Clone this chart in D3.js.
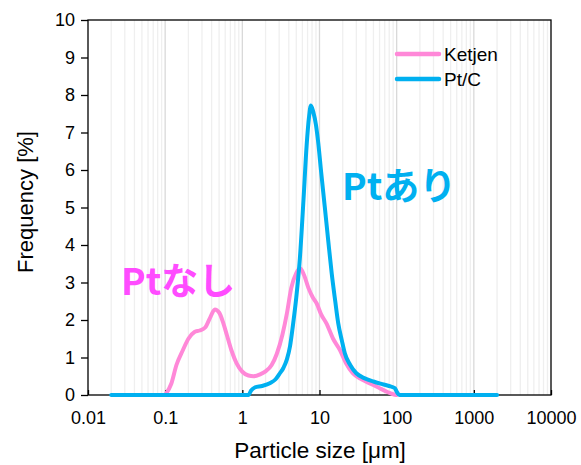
<!DOCTYPE html>
<html>
<head>
<meta charset="utf-8">
<script src="https://cdn.jsdelivr.net/npm/d3@7"></script>
<style>
  html, body { margin: 0; padding: 0; background: #fff; }
  svg { display: block; }
</style>
</head>
<body>
<svg id="chart" width="581" height="465"></svg>
<script>
// ---- data ----
const xTickValues = [0.01, 0.1, 1, 10, 100, 1000, 10000];
const xTickLabels = ["0.01", "0.1", "1", "10", "100", "1000", "10000"];
const yTickValues = [0, 1, 2, 3, 4, 5, 6, 7, 8, 9, 10];

const ketjenSize = [0.1, 0.12, 0.14, 0.17, 0.2, 0.24, 0.28, 0.33, 0.38, 0.44, 0.5, 0.56, 0.63, 0.72, 0.84, 1.0, 1.2, 1.4, 1.7, 2.0, 2.4, 2.8, 3.3, 3.8, 4.3, 5.0, 5.6, 6.3, 7.2, 8.2, 9.2, 10.5, 12.3, 15, 18.4, 22, 27, 35, 45, 58, 74, 90, 100];
const ketjenFreq = [0, 0.3, 0.8, 1.2, 1.5, 1.68, 1.72, 1.8, 2.05, 2.28, 2.2, 1.95, 1.6, 1.2, 0.85, 0.62, 0.52, 0.5, 0.55, 0.63, 0.8, 1.1, 1.6, 2.2, 2.85, 3.25, 3.38, 3.2, 2.85, 2.6, 2.44, 2.15, 1.91, 1.5, 1.2, 0.85, 0.58, 0.42, 0.31, 0.2, 0.09, 0.02, 0];

const ptcSize = [0.02, 1.2, 1.3, 1.45, 1.8, 2.3, 2.7, 3.07, 3.4, 3.78, 4.15, 4.52, 5.0, 5.57, 6.2, 6.81, 7.3, 7.74, 8.3, 9.0, 9.6, 10.5, 11.7, 13, 14.4, 16, 17.5, 19.5, 21.3, 25, 30, 38, 50, 65, 86, 95, 100, 110, 2000];
const ptcFreq = [0, 0, 0.12, 0.2, 0.24, 0.32, 0.42, 0.58, 0.72, 0.95, 1.3, 1.85, 2.6, 3.65, 5.2, 6.65, 7.4, 7.72, 7.55, 7.2, 6.75, 5.95, 5.02, 4.1, 3.24, 2.5, 1.91, 1.45, 1.11, 0.8, 0.58, 0.45, 0.36, 0.29, 0.22, 0.18, 0.09, 0, 0];

const seriesNames = ["Ketjen", "Pt/C"];
const seriesColors = ["#ff88d8", "#00b0f0"];
const annoTexts = ["Ptなし", "Ptあり"];
const annoColors = ["#ff4cff", "#00b0f0"];

// ---- layout ----
const L = 88, R = 551, T = 20, B = 395;
const svg = d3.select("#chart");
const x = d3.scaleLog().domain([0.01, 10000]).range([L, R]);
const y = d3.scaleLinear().domain([0, 10]).range([B, T]);

// gridlines (vertical, log minor + major)
const minor = [];
for (let e = -2; e < 4; e++) for (let k = 2; k <= 9; k++) minor.push(k * Math.pow(10, e));
svg.append("g").selectAll("line").data(minor).join("line")
  .attr("x1", d => x(d)).attr("x2", d => x(d)).attr("y1", T).attr("y2", B)
  .attr("stroke", "#efefef").attr("stroke-width", 1.3);
svg.append("g").selectAll("line").data(xTickValues.slice(1, -1)).join("line")
  .attr("x1", d => x(d)).attr("x2", d => x(d)).attr("y1", T).attr("y2", B)
  .attr("stroke", "#d9d9d9").attr("stroke-width", 1.3);

// frame
svg.append("rect").attr("x", L).attr("y", T).attr("width", R - L).attr("height", B - T)
  .attr("fill", "none").attr("stroke", "#000").attr("stroke-width", 1.3);

// y axis
const yAxis = d3.axisLeft(y).tickValues(yTickValues).tickSize(7).tickPadding(6).tickFormat(d3.format("d"));
const gy = svg.append("g").attr("transform", `translate(${L},0)`).call(yAxis);
gy.select(".domain").remove();
gy.selectAll("line").attr("stroke", "#000").attr("stroke-width", 1.3);
gy.selectAll("text").attr("font-family", "Liberation Sans, Arial, sans-serif").attr("font-size", 18).attr("fill", "#000");

// x axis (ticks inward)
const xAxis = d3.axisBottom(x).tickValues(xTickValues).tickSize(-5).tickPadding(16)
  .tickFormat((d, i) => xTickLabels[i]);
const gx = svg.append("g").attr("transform", `translate(0,${B})`).call(xAxis);
gx.select(".domain").remove();
gx.selectAll("line").attr("stroke", "#000").attr("stroke-width", 1.3);
gx.selectAll("text").attr("font-family", "Liberation Sans, Arial, sans-serif").attr("font-size", 18).attr("fill", "#000");

// axis titles
svg.append("text").attr("x", 320).attr("y", 458).attr("text-anchor", "middle")
  .attr("font-family", "Liberation Sans, Arial, sans-serif").attr("font-size", 22.5).text("Particle size [μm]");
svg.append("text").attr("transform", "translate(33,202) rotate(-90)").attr("text-anchor", "middle")
  .attr("font-family", "Liberation Sans, Arial, sans-serif").attr("font-size", 22).text("Frequency [%]");

// lines
const line = d3.line().x(d => x(d[0])).y(d => y(d[1])).curve(d3.curveMonotoneX);
const series = [
  d3.zip(ketjenSize, ketjenFreq),
  d3.zip(ptcSize, ptcFreq)
];
series.forEach((s, i) => {
  svg.append("path").datum(s).attr("d", line).attr("fill", "none")
    .attr("stroke", seriesColors[i]).attr("stroke-width", 4).attr("stroke-linejoin", "round").attr("stroke-linecap", "round");
});

// legend
const lg = svg.append("g");
seriesNames.forEach((n, i) => {
  const yy = 54 + i * 25;
  lg.append("line").attr("x1", 397).attr("x2", 439).attr("y1", yy).attr("y2", yy)
    .attr("stroke", seriesColors[i]).attr("stroke-width", 4.5).attr("stroke-linecap", "round");
  lg.append("text").attr("x", 444).attr("y", yy + 7).attr("font-family", "Liberation Sans, Arial, sans-serif")
    .attr("font-size", 19).attr("fill", "#000").text(n);
});

// annotations
const annoPos = [[121, 295], [342, 200]];
annoTexts.forEach((t, i) => {
  svg.append("text").attr("x", annoPos[i][0]).attr("y", annoPos[i][1])
    .attr("font-family", "Noto Sans CJK JP, sans-serif").attr("font-weight", 700)
    .attr("font-size", 37).attr("fill", annoColors[i]).text(t);
});
</script>
</body>
</html>
